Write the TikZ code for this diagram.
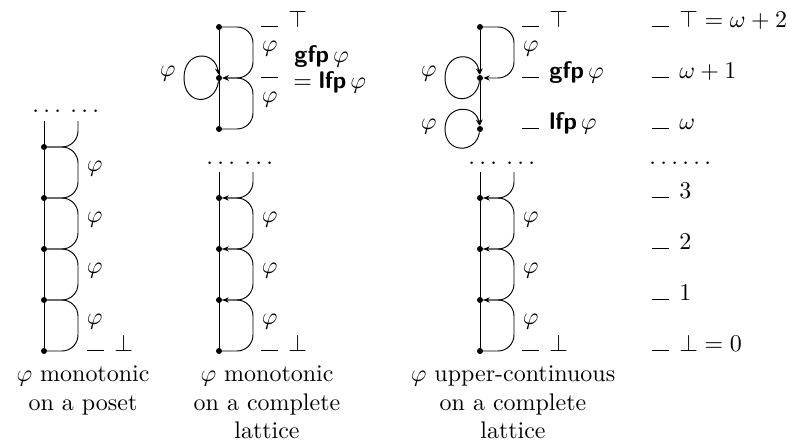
\documentclass[tikz,border=0pt]{standalone}
\usetikzlibrary{arrows.meta,positioning}

\newcommand\tickmark{\rule{7pt}{0.5pt}\hspace{4.2pt}}
\newcommand\fpop[1]{\textsf{\bfseries #1}\,\varphi}
\newcommand\threedots{.\kern1.8pt.\kern1.8pt.}

\begin{document}
\begin{tikzpicture}[x=0.417pt,y=-0.417pt,thin,>={Stealth[length=2.6pt,width=2.2pt]}]
   \tikzstyle{every node}=[node distance=21.27pt]
   \tikzstyle{elem}=[circle,fill,inner sep=0pt,minimum size=2.5pt]
   \tikzstyle{mapto}=[rounded corners=6.7pt]
   \tikzstyle{lab}=[right,pos=0.25,inner sep=3.5pt,yshift=1.5pt]
   \tikzstyle{level}=[anchor=base west,inner sep=0pt]
   \tikzstyle{dots}=[anchor=base west,inner sep=0pt]
   \tikzstyle{captext}=[anchor=north,align=center,inner sep=0pt]
   \useasboundingbox (0,0) rectangle (806,442);

   % monotonic on a poset
   \node[elem] (pa0) at (44,351) {};
   \node[elem,above of=pa0] (pa1) {};
   \node[elem,above of=pa1] (pa2) {};
   \node[elem,above of=pa2] (pa3) {};
   \node[elem,above of=pa3] (pa4) {};
   \coordinate (patop) at (44,121);
   \coordinate (paend) at (78,121);
   \draw (pa0) -- (patop);
   \foreach \i/\j in {0/1,1/2,2/3,3/4}
      \draw[mapto] (pa\i.center) -- ++(34,0) |- node[lab] (paphi\i) {$\varphi$} (pa\j);
   \draw[mapto] (pa4.center) -| (paend);
   \node[dots] (padots) at (32,112) {\threedots\kern3.9pt\threedots};
   \node[level] (pabot) at (87,351) {\tickmark$\bot$};
   \node[captext] (pacap) at (83,365) {$\varphi$ monotonic\\on a poset};

   % monotonic on a complete lattice
   \node[elem] (qb) at (219,129) {};
   \node[elem,above of=qb] (qm) {};
   \node[elem,above of=qm] (qt) {};
   \draw (qt) -- (qb);
   \draw[mapto,->] (qt.center) -- ++(34,0) |- node[lab] (qphit) {$\varphi$} (qm);
   \draw[mapto,->] (qb.center) -- ++(34,0) |- node[lab] (qphib) {$\varphi$} (qm);
   \draw[->] (qm) .. controls +(-4,28) and +(0,28) .. ++(-35,0) node[left,yshift=2pt] (qloop) {$\varphi$}
                  .. controls +(0,-28) and +(-4,-28) .. (qm);
   \node[level] (qtop) at (261,27) {\tickmark$\top$};
   \node[level] (qmid) at (261,78) {\tickmark};
   \node[level] (qgfp) at (294,62) {$\fpop{gfp}$};
   \node[level] (qlfp) at (293,88) {$=\fpop{lfp}$};

   \node[elem] (qa0) at (219,351) {};
   \node[elem,above of=qa0] (qa1) {};
   \node[elem,above of=qa1] (qa2) {};
   \node[elem,above of=qa2] (qa3) {};
   \coordinate (qatop) at (219,172);
   \coordinate (qaend) at (253,172);
   \draw (qa0) -- (qatop);
   \foreach \i/\j in {0/1,1/2,2/3}
      \draw[mapto,->] (qa\i.center) -- ++(34,0) |- node[lab] (qaphi\i) {$\varphi$} (qa\j);
   \draw[mapto] (qa3.center) -| (qaend);
   \node[dots] (qadots) at (206,164) {\threedots\kern3.9pt\threedots};
   \node[level] (qabot) at (261,351) {\tickmark$\bot$};
   \node[captext] (qcap) at (267,365) {$\varphi$ monotonic\\on a complete\\lattice};

   % upper-continuous on a complete lattice
   \node[elem] (rb) at (480,129) {};
   \node[elem,above of=rb] (rm) {};
   \node[elem,above of=rm] (rt) {};
   \draw[->] (rt) -- (rm);
   \draw[->] (rm) -- (rb);
   \draw[mapto,->] (rt.center) -- ++(34,0) |- node[lab] (rphi) {$\varphi$} (rm);
   \draw[->] (rm) .. controls +(-4,27) and +(0,27) .. ++(-35,0) node[left,yshift=2pt] (rloopm) {$\varphi$}
                  .. controls +(0,-27) and +(-4,-27) .. (rm);
   \draw[->] (rb) .. controls +(-4,25) and +(0,25) .. ++(-35,0) node[left,yshift=1pt] (rloopb) {$\varphi$}
                  .. controls +(0,-25) and +(-4,-25) .. (rb);
   \node[level] (rtop) at (522,27) {\tickmark$\top$};
   \node[level] (rgfp) at (522,78) {\tickmark$\fpop{gfp}$};
   \node[level] (rlfp) at (522,129) {\tickmark$\fpop{lfp}$};

   \node[elem] (ra0) at (480,351) {};
   \node[elem,above of=ra0] (ra1) {};
   \node[elem,above of=ra1] (ra2) {};
   \node[elem,above of=ra2] (ra3) {};
   \coordinate (ratop) at (480,172);
   \coordinate (raend) at (514,172);
   \draw (ra0) -- (ratop);
   \foreach \i/\j in {0/1,1/2,2/3}
      \draw[mapto,->] (ra\i.center) -- ++(34,0) |- node[lab] (raphi\i) {$\varphi$} (ra\j);
   \draw[mapto] (ra3.center) -| (raend);
   \node[dots] (radots) at (468,164) {\threedots\kern3.9pt\threedots};
   \node[level] (rabot) at (522,351) {\tickmark$\bot$};
   \node[captext] (rcap) at (513,365) {$\varphi$ upper-continuous\\on a complete\\lattice};

   % ordinals
   \node[level] (s6) at (652,27) {\tickmark$\top=\omega+2$};
   \node[level] (s5) at (652,78) {\tickmark$\omega+1$};
   \node[level] (s4) at (652,129) {\tickmark$\omega$};
   \node[dots] (sdots) at (649,164) {\threedots\kern1.8pt\threedots};
   \node[level] (s3) at (652,198) {\tickmark$3$};
   \node[level] (s2) at (652,249) {\tickmark$2$};
   \node[level] (s1) at (652,300) {\tickmark$1$};
   \node[level] (s0) at (652,351) {\tickmark$\bot=0$};
\end{tikzpicture}
\end{document}
